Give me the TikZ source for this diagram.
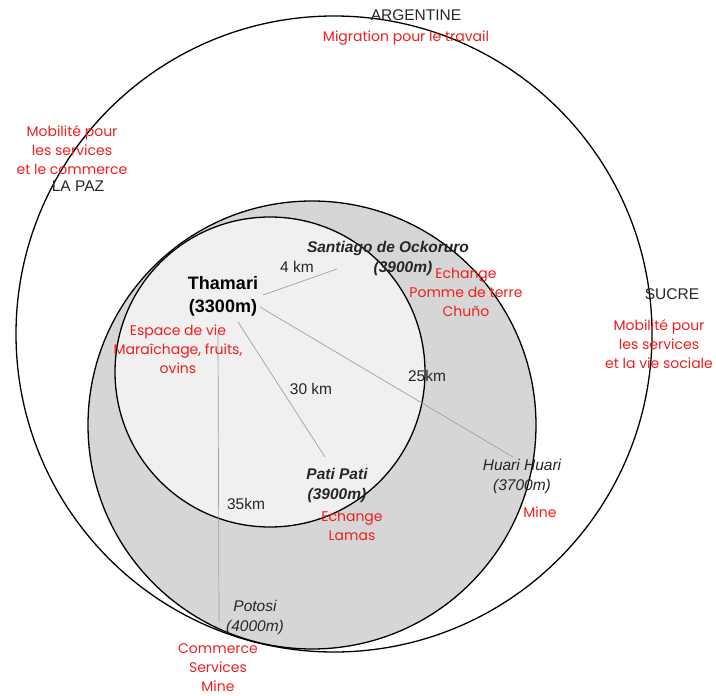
\documentclass[tikz,border=0pt]{standalone}
\usepackage{fontspec}
\setmainfont{Liberation Sans}
\newfontfamily\comicf{Poppins}
\definecolor{redtxt}{RGB}{240,30,30}
\definecolor{greyfill}{RGB}{214,214,214}
\definecolor{lightfill}{RGB}{240,240,240}
\definecolor{linegrey}{RGB}{160,160,160}
\tikzset{
  zone/.style={draw=black,line width=1.3pt},
  link/.style={draw=linegrey,line width=0.7pt},
  lab/.style={inner sep=0pt,font=\fontsize{15.5}{19}\selectfont,text=black!85,align=center},
  place/.style={lab,font=\fontsize{15.5}{20}\selectfont\bfseries\itshape},
  iplace/.style={lab,font=\fontsize{15.5}{20}\selectfont\itshape},
  home/.style={lab,font=\fontsize{18}{23}\selectfont\bfseries,text=black},
  note/.style={inner sep=0pt,font=\fontsize{14}{19}\selectfont\comicf,text=redtxt,align=center}
}
\begin{document}
\begin{tikzpicture}[x=1pt,y=-1pt]
\useasboundingbox (0,0) rectangle (716,696);
% zones
\draw[zone,fill=white] (334,334) circle[radius=318pt];
\draw[zone,fill=greyfill] (312,425) circle[radius=224pt];
\draw[zone,fill=lightfill] (270,372) circle[radius=155pt];
% connector end points
\coordinate (t1) at (263,295);
\coordinate (s1) at (337,269);
\coordinate (t2) at (260,307);
\coordinate (h1) at (513,457);
\coordinate (t3) at (238,322);
\coordinate (p1) at (325,457);
\coordinate (t4) at (218,333);
\coordinate (o1) at (219,622);
\draw[link] (t1) -- (s1);
\draw[link] (t2) -- (h1);
\draw[link] (t3) -- (p1);
\draw[link] (t4) -- (o1);
% black labels
\node[lab] (arg) at (416,15) {ARGENTINE};
\node[lab] (lapaz) at (78,186) {LA PAZ};
\node[lab] (sucre) at (672,294) {SUCRE};
\node[home] (thamari) at (223,296) {Thamari\\(3300m)};
\node[place] (santiago) at (388,258) {Santiago de Ockoruro\\\hspace*{30pt}(3900m)};
\node[place] (pati) at (337,485) {Pati Pati\\(3900m)};
\node[iplace] (huari) at (522,476) {Huari Huari\\(3700m)};
\node[iplace] (potosi) at (255,617) {Potosi\\(4000m)};
\node[lab] (d4) at (297,267) {4 km};
\node[lab] (d30) at (311,389) {30 km};
\node[lab] (d25) at (427,376) {25km};
\node[lab] (d35) at (246,504) {35km};
% red notes
\node[note] (nArg) at (406,38) {Migration pour le travail};
\node[note] (nLaPaz) at (72,150) {Mobilité pour\\les services\\et le commerce};
\node[note] (nSucre) at (659,344) {Mobilité pour\\les services\\et la vie sociale};
\node[note] (nSant) at (466,292) {Echange\\Pomme de terre\\Chuño};
\node[note] (nTham) at (178,349) {Espace de vie\\Maraîchage, fruits,\\ovins};
\node[note] (nPati) at (352,526) {Echange\\Lamas};
\node[note] (nHuari) at (540,512) {Mine};
\node[note] (nPotosi) at (218,668) {Commerce\\Services\\Mine};
\end{tikzpicture}
\end{document}
